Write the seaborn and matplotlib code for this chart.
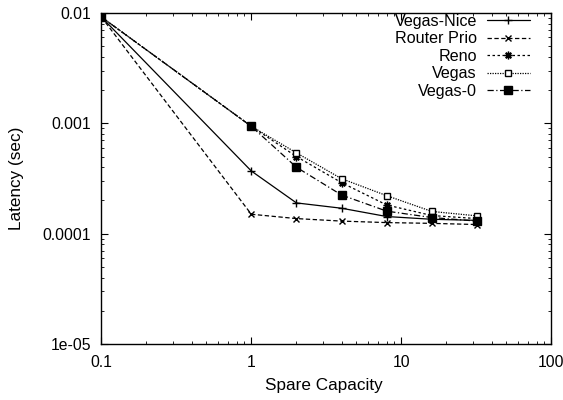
import matplotlib
matplotlib.use("Agg")
import matplotlib.pyplot as plt
import matplotlib.ticker as mticker
import seaborn as sns
import pandas as pd

capacity = [0.1, 1, 2, 4, 8, 16, 32]
vegas_nice = [0.0092, 0.00037, 0.00019, 0.00017, 0.000143, 0.000135, 0.000132]
router_prio = [0.0092, 0.00015, 0.000137, 0.00013, 0.000126, 0.000124, 0.000121]
reno = [0.0092, 0.00094, 0.00050, 0.00029, 0.000182, 0.000146, 0.000137]
vegas = [0.0092, 0.00094, 0.00054, 0.000315, 0.000221, 0.000159, 0.000145]
vegas_0 = [0.0092, 0.00094, 0.00040, 0.000224, 0.00016, 0.00014, 0.00013]

series_names = ["Vegas-Nice", "Router Prio", "Reno", "Vegas", "Vegas-0"]
series_values = [vegas_nice, router_prio, reno, vegas, vegas_0]

x_ticks = [0.1, 1, 10, 100]
x_tick_labels = ["0.1", "1", "10", "100"]
y_ticks = [1e-5, 1e-4, 1e-3, 1e-2]
y_tick_labels = ["1e-05", "0.0001", "0.001", "0.01"]

sns.set_style("ticks")
plt.rcParams["font.family"] = ["Liberation Sans", "DejaVu Sans"]
plt.rcParams["text.color"] = "black"
plt.rcParams["axes.labelcolor"] = "black"

styles = {
    "Vegas-Nice": dict(linestyle="-", marker="+", ms=6, mfc="black"),
    "Router Prio": dict(linestyle=(0, (3.5, 2)), marker="x", ms=4.5, mfc="black"),
    "Reno": dict(linestyle=(0, (2, 2)), marker=(8, 2, 0), ms=5.5, mfc="black"),
    "Vegas": dict(linestyle=(0, (1, 1)), marker="s", ms=4.5, mfc="white"),
    "Vegas-0": dict(linestyle=(0, (5, 2, 1, 2)), marker="s", ms=5.2, mfc="black"),
}

fig = plt.figure(figsize=(5.63, 4.0), dpi=100)
ax = fig.add_axes([0.18, 0.14, 0.799, 0.8275])

for name, vals in zip(series_names, series_values):
    df = pd.DataFrame({"x": capacity, "y": vals})
    st = styles[name]
    sns.lineplot(data=df, x="x", y="y", ax=ax, color="black", lw=0.9,
                 linestyle=st["linestyle"], marker=st["marker"], ms=st["ms"],
                 mfc=st["mfc"], mec="black", mew=1.0, label=name)

ax.set_xscale("log")
ax.set_yscale("log")
ax.set_xlim(0.1, 100)
ax.set_ylim(1e-5, 0.01)
ax.set_xticks(x_ticks)
ax.set_xticklabels(x_tick_labels)
ax.set_yticks(y_ticks)
ax.set_yticklabels(y_tick_labels)
ax.xaxis.set_minor_locator(mticker.LogLocator(base=10, subs=range(2, 10)))
ax.yaxis.set_minor_locator(mticker.LogLocator(base=10, subs=range(2, 10)))
ax.xaxis.set_minor_formatter(mticker.NullFormatter())
ax.yaxis.set_minor_formatter(mticker.NullFormatter())
ax.tick_params(which="both", direction="in", top=True, right=True, labelsize=11.3, colors="black")
ax.tick_params(which="major", length=5, width=0.8)
ax.tick_params(which="minor", length=2.5, width=0.6)
ax.tick_params(axis="x", which="major", pad=8)
ax.tick_params(axis="y", which="major", pad=7.5)
for sp in ax.spines.values():
    sp.set_linewidth(1.0)
    sp.set_color("black")

ax.set_xlabel("Spare Capacity", fontsize=12.3, color="black")
ax.set_ylabel("Latency (sec)", fontsize=12.3, color="black")
ax.xaxis.set_label_coords(0.495, -0.102)
ax.yaxis.set_label_coords(-0.172, 0.5)

leg = ax.legend(loc="upper right", frameon=False, markerfirst=False, fontsize=11.6,
                handlelength=2.7, labelspacing=0.15, handletextpad=0.6,
                borderaxespad=0.0, borderpad=0.0, bbox_to_anchor=(0.953, 0.997),
                labelcolor="black")

fig.savefig("out.png", dpi=100)
